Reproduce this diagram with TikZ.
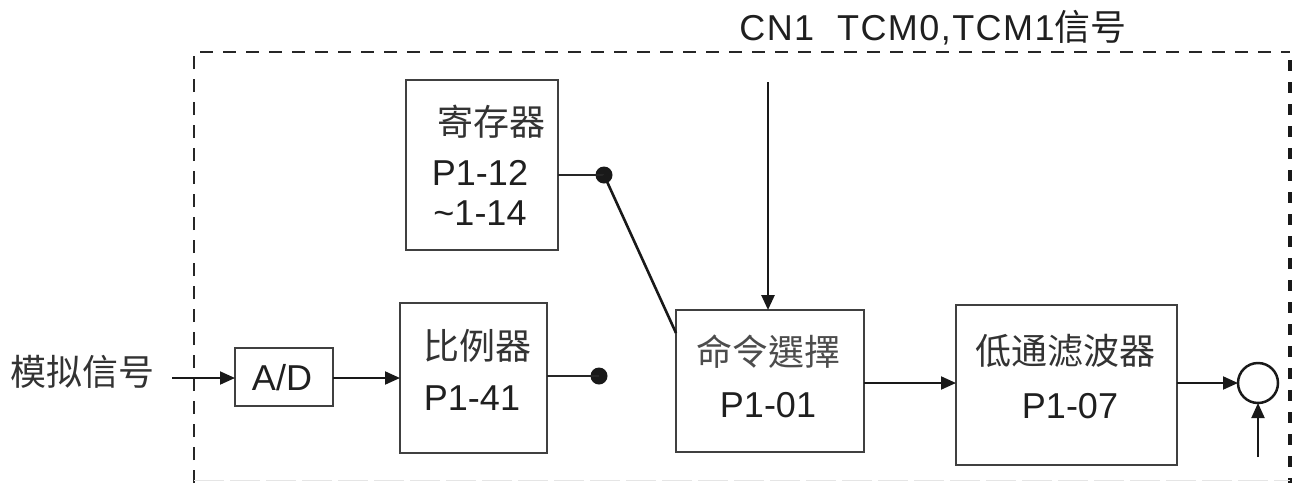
\documentclass[tikz,border=0pt]{standalone}
\usepackage{fontspec}
\setmainfont{Liberation Sans}
\newfontfamily\titlefont[LetterSpace=4]{Liberation Sans}
\newfontfamily\cjk{Noto Sans CJK SC}
\newfontfamily\cjktc{Noto Sans CJK TC}
\usetikzlibrary{arrows.meta}
\tikzset{
  blk/.style={draw=black!75, line width=2pt, inner sep=0pt, outer sep=0pt},
  lbl/.style={anchor=base, inner sep=0pt, text=black!88, font=\fontsize{36}{36}\selectfont},
  clbl/.style={anchor=base, inner sep=0pt, text=black!80, font=\fontsize{36}{36}\selectfont\cjk},
  wire/.style={line width=2pt, black!85},
  sig/.style={line width=2pt, black!90, -{Triangle[length=15pt,width=13pt]}},
  dotnode/.style={circle, fill=black!90, minimum size=17pt, inner sep=0pt, outer sep=0pt},
  frameline/.style={line width=2.2pt, black!85, dash pattern=on 13pt off 10pt}
}
\begin{document}
\begin{tikzpicture}[x=1pt, y=-1pt]
\useasboundingbox (0,0) rectangle (1299,483);

% frame
\draw[frameline] (194,483) -- (194,52) -- (1290,52);
\draw[line width=3.5pt, black!90, dash pattern=on 11pt off 11pt] (1290,60) -- (1290,483);
\draw[line width=1pt, black!10, dash pattern=on 30pt off 6pt] (194,480) -- (1290,480);

% title
\node[lbl, font=\fontsize{36}{36}\selectfont\titlefont] (title) at (933,40) {CN1\ \ TCM0,TCM1{\cjk 信号}};

% blocks
\node[blk, minimum width=152pt, minimum height=170pt] (reg) at (482,165) {};
\node[blk, minimum width=98pt, minimum height=58pt] (ad) at (284,377) {};
\node[blk, minimum width=147pt, minimum height=150pt] (ratio) at (473.5,378) {};
\node[blk, minimum width=188pt, minimum height=142pt] (cmd) at (770,381) {};
\node[blk, minimum width=221pt, minimum height=160pt] (lpf) at (1066.5,385) {};
\node[circle, draw=black!90, line width=2.5pt, minimum size=40pt, inner sep=0pt, outer sep=0pt] (sum) at (1258,383) {};

% labels
\node[clbl] (regA) at (491,135) {寄存器};
\node[lbl] (regB) at (480,185) {P1-12};
\node[lbl] (regC) at (480,225) {\char"7E 1-14};
\node[lbl] (adA) at (282,390) {A/D};
\node[clbl] (ratA) at (477,359) {比例器};
\node[lbl] (ratB) at (472,410) {P1-41};
\node[clbl, font=\fontsize{36}{36}\selectfont\cjktc, text=black!70] (cmdA) at (768,365) {命令選擇};
\node[lbl] (cmdB) at (768,417) {P1-01};
\node[clbl] (lpfA) at (1065,364) {低通滤波器};
\node[lbl] (lpfB) at (1070,418) {P1-07};
\node[clbl] (sigin) at (82,385) {模拟信号};

% dots
\node[dotnode] (d1) at (604,175) {};
\node[dotnode] (d2) at (599,376) {};

% helper coordinates
\coordinate (in0) at (172,378);
\coordinate (cmdin) at (676,333);
\coordinate (tin) at (768,82);
\coordinate (fb) at (1258,457);

% connectors
\draw[sig] (in0) -- (ad.west |- in0);
\draw[sig] (ad.east |- in0) -- (ratio.west |- in0);
\draw[wire] (reg.east |- d1) -- (d1.center);
\draw[line width=2.6pt, black!90] (d1.center) -- (cmdin);
\draw[wire] (ratio.east |- d2) -- (d2.center);
\draw[line width=2.6pt, black!90, -{Triangle[length=15pt,width=13pt]}] (tin) -- (tin |- cmd.north);
\draw[sig] (cmd.east |- sum) -- (lpf.west |- sum);
\draw[sig] (lpf.east |- sum) -- (sum.west);
\draw[sig] (fb) -- (sum.south);
\end{tikzpicture}
\end{document}
